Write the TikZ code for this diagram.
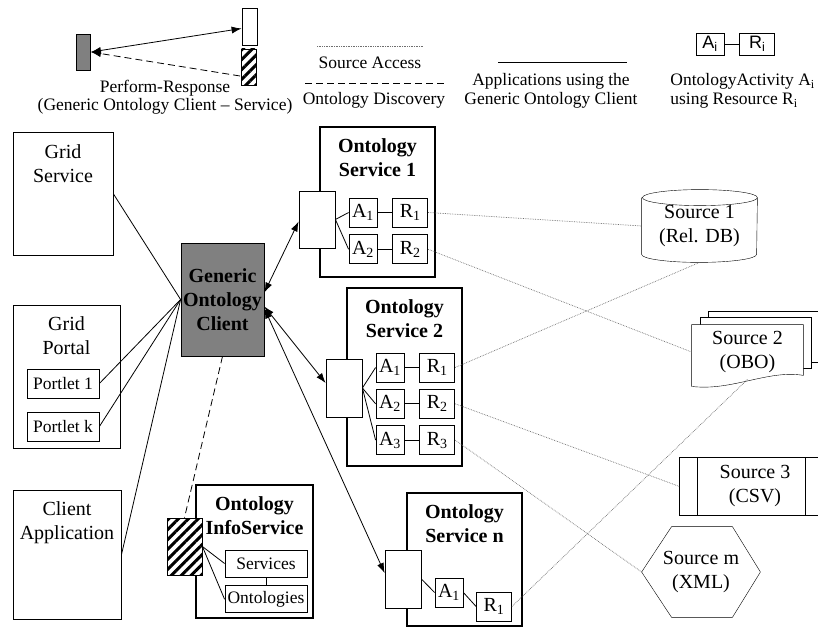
\documentclass[tikz,border=0pt]{standalone}
\usepackage{fontspec}
\setmainfont{Liberation Serif}
\newfontfamily\arialfont{Liberation Sans}
\usetikzlibrary{positioning, arrows.meta, patterns.meta, backgrounds, calc}
\definecolor{gocclr}{RGB}{128,128,128}
\definecolor{dotclr}{RGB}{110,110,110}
\newcommand\lblfont{\fontsize{20}{24}\selectfont}
\newcommand\lgdfont{\fontsize{17.5}{18.5}\selectfont}
\newcommand\arfont{\arialfont\fontsize{18}{20}\selectfont}

\begin{document}
\begin{tikzpicture}[
    x=1pt, y=-1pt,
    line width=0.8pt,
    font=\lgdfont,
    >={Latex[length=10pt, width=7pt]},
    box/.style  ={draw, inner sep=0pt},
    txt/.style  ={inner sep=0pt, align=center},
    ttl/.style  ={font=\lblfont, align=center, anchor=north, inner sep=0pt, yshift=-12pt},
    app/.style  ={box, line width=1pt, label={[ttl]north:{#1}}},
    svc/.style  ={box, line width=1.8pt, minimum width=115pt,
                  label={[ttl, font=\lblfont\bfseries]north:{#1}}},
    port/.style ={box, fill=white, minimum width=36pt, minimum height=57pt},
    hatch/.style={box, preaction={fill=white},
                  pattern={Lines[angle=45, distance=7pt, line width=3pt]},
                  minimum width=35pt, minimum height=57pt},
    act/.style  ={box, minimum width=28pt, minimum height=29pt, font=\lblfont},
    res/.style  ={box, minimum width=35pt, minimum height=29pt, font=\lblfont},
    src/.style  ={txt, font=\lblfont},
    pr/.style   ={<->},
    disc/.style ={dash pattern=on 7pt off 4pt},
    acc/.style  ={dotclr, densely dotted, line width=0.7pt},
]
\path[use as bounding box, clip] (0,0) rectangle (818,628);

% =============== Legend ===============
\node[box, fill=gocclr, minimum width=14pt, minimum height=36pt] (lgoc) at (83.5,52) {};
\node[box, minimum width=15pt, minimum height=37pt] (lport) at (249.5,26.5) {};
\node[hatch, minimum width=15pt, minimum height=36pt] (lhatch) at (249,67) {};
\draw[pr] (lgoc.east) -- ([yshift=-2pt]lport.west);
\draw[disc, ->] ([yshift=-9pt]lhatch.west) -- (lgoc.east);
\node[txt] (lprtxt) at (165,97) {Perform-Response\\(Generic Ontology Client -- Service)};

\coordinate (saL) at (317,46);
\coordinate (saR) at (423,46);
\draw[acc] (saL) -- (saR);
\node[txt] (satxt) at (370,63) {Source Access};

\coordinate (odL) at (305,83);
\coordinate (odR) at (447,83);
\draw[disc] (odL) -- (odR);
\node[txt] (odtxt) at (374,100) {Ontology Discovery};

\coordinate (apL) at (498,62);
\coordinate (apR) at (627,62);
\draw (apL) -- (apR);
\node[txt] (aptxt) at (551,91) {Applications using the\\Generic Ontology Client};

\node[box, minimum width=28pt, minimum height=22pt, font=\arfont] (lact) at (710,44) {A\textsubscript{i}};
\node[box, right=15pt of lact, minimum width=35pt, minimum height=22pt, font=\arfont] (lres) {R\textsubscript{i}};
\draw (lact) -- (lres);
\node[txt, align=left, anchor=west] (lartxt) at (670,91)
     {OntologyActivity A\textsubscript{i}\\using Resource R\textsubscript{i}};

% =============== Applications ===============
\node[app={Grid\\Service}, minimum width=100pt, minimum height=122pt] (gs) at (63,194) {};
\node[app={Grid\\Portal}, minimum width=107pt, minimum height=143pt] (gp) at (66.5,376.5) {};
\node[box, minimum width=72pt, minimum height=29pt] (p1) at (63,383.5) {Portlet 1};
\node[box, minimum width=72pt, minimum height=29pt] (pk) at (63,426.5) {Portlet k};
\node[app={Client\\Application}, minimum width=108pt, minimum height=129pt] (ca) at (67,554.5) {};

% =============== Generic Ontology Client ===============
\node[box, fill=gocclr, minimum width=83pt, minimum height=113pt,
      font=\lblfont\bfseries, align=center] (goc) at (222.5,299.5) {Generic\\Ontology\\Client};

\foreach \n in {gs, p1, pk, ca}{%
  \draw (\n.east) -- (goc.west);
}

% =============== Ontology Service 1 ===============
\node[svc={Ontology\\Service 1}, minimum height=150pt] (os1) at (377.5,202) {};
\node[port] (os1p) at (317,219.5) {};
\node[act] (os1a1) at (363,212.5) {A\textsubscript{1}};
\node[res, right=15pt of os1a1] (os1r1) {R\textsubscript{1}};
\node[act, below=7pt of os1a1] (os1a2) {A\textsubscript{2}};
\node[res, right=15pt of os1a2] (os1r2) {R\textsubscript{2}};

% =============== Ontology Service 2 ===============
\node[svc={Ontology\\Service 2}, minimum height=178pt] (os2) at (404.5,377) {};
\node[port, minimum height=58pt] (os2p) at (344,388) {};
\node[act] (os2a1) at (390,367.5) {A\textsubscript{1}};
\node[res, right=15pt of os2a1] (os2r1) {R\textsubscript{1}};
\node[act, below=6.5pt of os2a1] (os2a2) {A\textsubscript{2}};
\node[res, right=15pt of os2a2] (os2r2) {R\textsubscript{2}};
\node[act, below=6.5pt of os2a2] (os2a3) {A\textsubscript{3}};
\node[res, right=15pt of os2a3] (os2r3) {R\textsubscript{3}};

% =============== Ontology Service n ===============
\node[svc={Ontology\\Service n}, minimum height=133pt] (osn) at (464.5,559.5) {};
\node[port, minimum height=58pt] (osnp) at (403,579) {};
\node[act] (osna1) at (449,592.5) {A\textsubscript{1}};
\node[res] (osnr1) at (494,606.5) {R\textsubscript{1}};

\foreach \p/\a/\r in {os1p/os1a1/os1r1, os1p/os1a2/os1r2,
                      os2p/os2a1/os2r1, os2p/os2a2/os2r2, os2p/os2a3/os2r3,
                      osnp/osna1/osnr1}{%
  \draw (\p.east) -- (\a.west);
  \draw (\a.east) -- (\r.west);
}

% =============== Ontology InfoService ===============
\node[svc={Ontology\\InfoService}, minimum width=117pt, minimum height=133pt] (osi) at (254.5,551.5) {};
\node[hatch] (osih) at (184.5,546.5) {};
\node[box, minimum width=82pt, minimum height=27pt] (isvc) at (266,563.5) {Services};
\node[box, below=8pt of isvc, minimum width=82pt, minimum height=27pt] (iont) {Ontologies};
\draw (isvc) -- (iont);
\draw (osih.east) -- (isvc.west);
\draw (osih.east) -- (iont.west);

% =============== Perform-Response / Discovery ===============
\draw[pr] ([yshift=7pt]goc.east)  -- ([yshift=-2pt]os1p.west);
\draw[pr] ([yshift=-7pt]goc.east) -- ([yshift=5pt]os2p.west);
\draw[pr] ([yshift=-9pt]goc.east) -- ([yshift=6pt]osnp.west);
\draw[disc] (goc.south) -- (osih.north);

% =============== Sources ===============
\node[src, minimum width=115pt, minimum height=72pt] (src1) at (699.5,226) {Source 1\\(Rel. DB)};
\node[src, minimum width=111pt, minimum height=54pt] (src2) at (747.5,352) {Source 2\\(OBO)};
\node[src, minimum width=150pt, minimum height=57pt] (src3) at (755,486.5) {Source 3\\(CSV)};
\node[src, minimum width=118pt, minimum height=90pt] (srcm) at (701,572) {Source m\\(XML)};

\begin{scope}[on background layer]
  % database
  \draw ([yshift=-8pt]src1.north west) -- ([yshift=8pt]src1.south west)
        arc[start angle=180, end angle=360, x radius=57.5pt, y radius=8pt]
        -- ([yshift=-8pt]src1.north east)
        arc[start angle=0, end angle=360, x radius=57.5pt, y radius=8pt];
  % stacked documents
  \draw[fill=white] ([xshift=17pt, yshift=13pt]src2.north west) rectangle ([xshift=27pt, yshift=17pt]src2.south east);
  \draw[fill=white] ([xshift=9pt, yshift=7pt]src2.north west) rectangle ([xshift=8pt, yshift=11pt]src2.south east);
  \draw[fill=white] (src2.north west) -- (src2.north east) -- ([yshift=4pt]src2.south east)
        .. controls ([xshift=-35pt, yshift=10pt]src2.south east) and ([xshift=40pt, yshift=-12pt]src2.south west)
        .. ([yshift=-7pt]src2.south west) -- cycle;
  % predefined process
  \draw (src3.north west) rectangle (src3.south east);
  \draw ([xshift=18pt]src3.north west) -- ([xshift=18pt]src3.south west);
  \draw ([xshift=126pt]src3.north west) -- ([xshift=126pt]src3.south west);
  % hexagon
  \draw (srcm.west) -- ([xshift=30pt]srcm.north west) -- ([xshift=-28pt]srcm.north east)
        -- (srcm.east) -- ([xshift=-28pt]srcm.south east) -- ([xshift=30pt]srcm.south west) -- cycle;
\end{scope}

% =============== Source access ===============
\foreach \r/\s in {os1r1/src1.west, os1r2/src2.west, os2r1/src1.south,
                   os2r2/src3.west, os2r3/srcm.west, osnr1/src2.south}{%
  \draw[acc] (\r.east) -- (\s);
}

\end{tikzpicture}
\end{document}
